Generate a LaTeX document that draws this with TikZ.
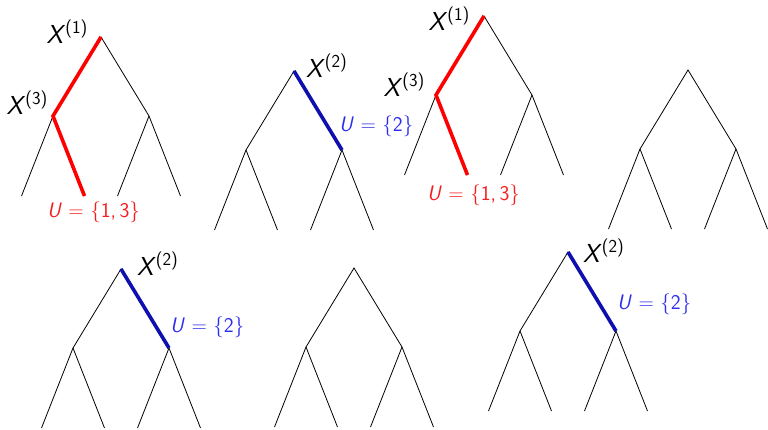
\documentclass[tikz,border=0pt]{standalone}
\usepackage{tikz}
\usetikzlibrary{positioning}

\definecolor{pathred}{RGB}{255,0,0}
\definecolor{pathblue}{RGB}{15,15,175}
\definecolor{labred}{RGB}{245,30,30}
\definecolor{labblue}{RGB}{45,45,240}

\newcommand{\xlab}[1]{\textit{X}\textsuperscript{(#1)}}

\begin{document}
\begin{tikzpicture}[
  x=1pt, y=-1pt,
  edge/.style={draw, line width=0.8pt},
  hired/.style={draw=pathred, line width=3.6pt},
  hiblue/.style={draw=pathblue, line width=3.6pt},
  xl/.style={font=\fontsize{26}{30}\sffamily, inner sep=0pt},
  ul/.style={font=\fontsize{21}{25}\sffamily, inner sep=0pt},
]
\useasboundingbox (0,0) rectangle (768,429);

% roots of the seven trees
\foreach \t/\rx/\ry in {a/101/37, b/294/71, c/484/16, d/688/70,
                        e/121/269, f/354/268, g/568/252} {
  \coordinate (\t r)  at (\rx,\ry);
  \coordinate (\t l)  at ([shift={(-48,79)}]\t r);
  \coordinate (\t R)  at ([shift={(48,79)}]\t r);
  \coordinate (\t ll) at ([shift={(-31.5,80)}]\t l);
  \coordinate (\t lr) at ([shift={(31.5,80)}]\t l);
  \coordinate (\t Rl) at ([shift={(-31.5,80)}]\t R);
  \coordinate (\t RR) at ([shift={(31.5,80)}]\t R);
  \draw[edge] (\t ll) -- (\t l) -- (\t r) -- (\t R) -- (\t RR);
  \draw[edge] (\t lr) -- (\t l);
  \draw[edge] (\t Rl) -- (\t R);
}

% highlighted paths
\foreach \t in {a, c}
  \draw[hired, line join=miter] (\t r) -- (\t l) -- (\t lr);
\foreach \t in {b, e, g}
  \draw[hiblue] (\t r) -- (\t R);

% labels, red trees
\node[xl, anchor=base east] (a1) at ([shift={(-13,6)}]ar) {\xlab{1}};
\node[xl, anchor=base east] (a3) at ([shift={(-5,-2)}]al) {\xlab{3}};
\node[ul, anchor=base, text=labred] (au) at ([shift={(9,21)}]alr) {\textit{U} = \{1,\,3\}};
\node[xl, anchor=base east] (c1) at ([shift={(-14,14)}]cr) {\xlab{1}};
\node[xl, anchor=base east] (c3) at ([shift={(-11,1)}]cl) {\xlab{3}};
\node[ul, anchor=base, text=labred] (cu) at ([shift={(6,25)}]clr) {\textit{U} = \{1,\,3\}};

% labels, blue trees
\node[xl, anchor=base west] (b2) at ([shift={(12,6)}]br) {\xlab{2}};
\node[ul, anchor=base west, text=labblue] (bu) at ([shift={(-3,-19)}]bR) {\textit{U} = \{2\}};
\node[xl, anchor=base west] (e2) at ([shift={(16,6)}]er) {\xlab{2}};
\node[ul, anchor=base west, text=labblue] (eu) at ([shift={(1,-16)}]eR) {\textit{U} = \{2\}};
\node[xl, anchor=base west] (g2) at ([shift={(15,10)}]gr) {\xlab{2}};
\node[ul, anchor=base west, text=labblue] (gu) at ([shift={(1,-22)}]gR) {\textit{U} = \{2\}};
\end{tikzpicture}
\end{document}
